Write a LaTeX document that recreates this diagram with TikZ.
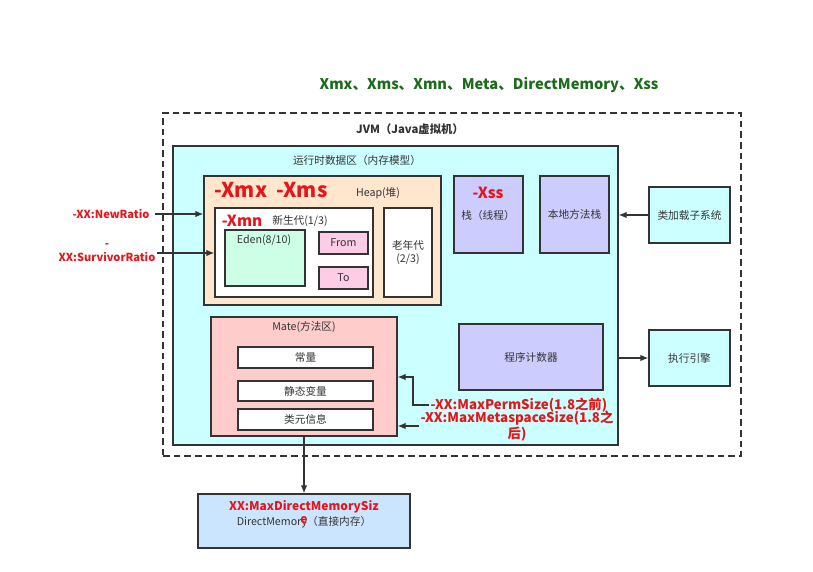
\documentclass[tikz,border=0pt]{standalone}
\usepackage{fontspec}
\setmainfont{Noto Sans CJK SC}
\usetikzlibrary{fit,arrows.meta}
\definecolor{rdacyan}{HTML}{CCFFFF}
\definecolor{heapfill}{HTML}{FFE6CC}
\definecolor{stackfill}{HTML}{CCCCFF}
\definecolor{matefill}{HTML}{FFCCCC}
\definecolor{survfill}{HTML}{FFCCE6}
\definecolor{edenfill}{HTML}{CCFFE6}
\definecolor{dmfill}{HTML}{CCE5FF}
\definecolor{flagred}{HTML}{E5161B}
\definecolor{titlegreen}{HTML}{1B6B1B}
\definecolor{edge}{HTML}{333333}
\tikzset{
  area/.style={draw=edge,line width=1pt,inner sep=0pt},
  lbl/.style={font=\fontsize{8}{10}\selectfont,text=edge,inner sep=1pt},
  flag/.style={font=\bfseries\fontsize{10}{12}\selectfont,text=flagred,inner sep=1pt},
  smallflag/.style={flag,font=\bfseries\fontsize{8.3}{10.5}\selectfont},
  conn/.style={draw=edge,line width=1pt,-{Latex[length=6pt,width=5pt]}}
}
\begin{document}
\begin{tikzpicture}[x=0.75pt,y=-0.75pt]
\useasboundingbox (0,0) rectangle (813,571);
\node[font=\bfseries\fontsize{11}{13}\selectfont,text=titlegreen] (title) at (489,85) {Xmx、Xms、Xmn、Meta、DirectMemory、Xss};
% JVM
\node[area,dashed,dash pattern=on 5pt off 3pt,fit={(163,113) (741,456)}] (jvm) {};
\node[lbl,font=\bfseries\fontsize{8.5}{10}\selectfont] (jvmname) at (410,129) {JVM（Java虚拟机）};
% runtime data area
\node[area,fill=rdacyan,fit={(173,146) (618,445)}] (rda) {};
\node[lbl] (rdaname) at (357,160) {运行时数据区（内存模型）};
% heap
\node[area,fill=heapfill,fit={(204,176) (441,305)}] (heap) {};
\node[flag,font=\bfseries\fontsize{15.3}{18}\selectfont] (xmx) at (271,190) {-Xmx\ \ -Xms};
\node[lbl] (heapname) at (378,193) {Heap(堆)};
\node[area,fill=white,fit={(215,208) (373,297)}] (young) {};
\node[flag,font=\bfseries\fontsize{11.5}{13}\selectfont] (xmn) at (242,221) {-Xmn};
\node[lbl] (youngname) at (300,221) {新生代(1/3)};
\node[area,fill=edenfill,fit={(225,230) (305,286)}] (eden) {};
\node[lbl] (edenname) at (264,240) {Eden(8/10)};
\node[area,fill=survfill,fit={(319,232) (368,254)}] (from) {};
\node[lbl] at (from) {From};
\node[area,fill=survfill,fit={(319,267) (368,289)}] (to) {};
\node[lbl] at (to) {To};
\node[area,fill=white,fit={(384,208) (432,297)}] (old) {};
\node[lbl,align=center] at (old) {老年代\\(2/3)};
% stacks
\node[area,fill=stackfill,fit={(454,176) (523,253)}] (stack) {};
\node[flag,font=\bfseries\fontsize{11.5}{13}\selectfont] (xss) at (488,193) {-Xss};
\node[lbl] (stackname) at (488,215) {栈（线程）};
\node[area,fill=stackfill,fit={(540,176) (609,253)}] (native) {};
\node[lbl] at (native) {本地方法栈};
\node[area,fill=stackfill,fit={(459,324) (603,390)}] (pc) {};
\node[lbl] at (pc) {程序计数器};
% method area
\node[area,fill=matefill,fit={(211,317) (397,436)}] (mate) {};
\node[lbl] (matename) at (304,327) {Mate(方法区)};
\node[area,fill=white,fit={(238,347) (373,368)}] (const) {};
\node[lbl] at (const) {常量};
\node[area,fill=white,fit={(238,381) (373,401)}] (static) {};
\node[lbl] at (static) {静态变量};
\node[area,fill=white,fit={(238,409) (373,430)}] (meta) {};
\node[lbl] at (meta) {类元信息};
% outside
\node[area,fill=rdacyan,fit={(649,187) (730,243)}] (loader) {};
\node[lbl] at (loader) {类加载子系统};
\node[area,fill=rdacyan,fit={(649,330) (730,386)}] (engine) {};
\node[lbl] at (engine) {执行引擎};
\node[area,fill=dmfill,fit={(198,494) (410,548)}] (dm) {};
\node[flag,font=\bfseries\fontsize{9}{11}\selectfont] (dmflag) at (304,507) {XX:MaxDirectMemorySiz};
\node[lbl] (dmname) at (304,522) {DirectMemory（直接内存）};
\node[flag,font=\bfseries\fontsize{9}{11}\selectfont] (dmtail) at (304,520) {e};
% flags
\node[smallflag,anchor=east] (newratio) at (151,214) {-XX:NewRatio};
\node[smallflag,align=center] (survratio) at (107,253) {-\\XX:SurvivorRatio};
\node[flag,anchor=west] (perm) at (429,405) {-XX:MaxPermSize(1.8之前)};
\node[flag,align=center] (metasize) at (517,426) {-XX:MaxMetaspaceSize(1.8之\\后)};
% arrows
\draw[conn] (newratio.east) ++(4,0) -- (heap.west |- newratio.east);
\draw[conn] (survratio.east) -- (young.west |- survratio.east);
\draw[conn] (loader.west) -- (rda.east |- loader.west);
\draw[conn] (rda.east |- engine.west) -- (engine.west);
\draw[conn] (perm.west) -| (413,377) -- (mate.east |- 413,377);
\draw[conn] (metasize.west) -- (mate.east |- metasize.west);
\draw[conn] (mate.south) -- (dm.north);
\end{tikzpicture}
\end{document}
